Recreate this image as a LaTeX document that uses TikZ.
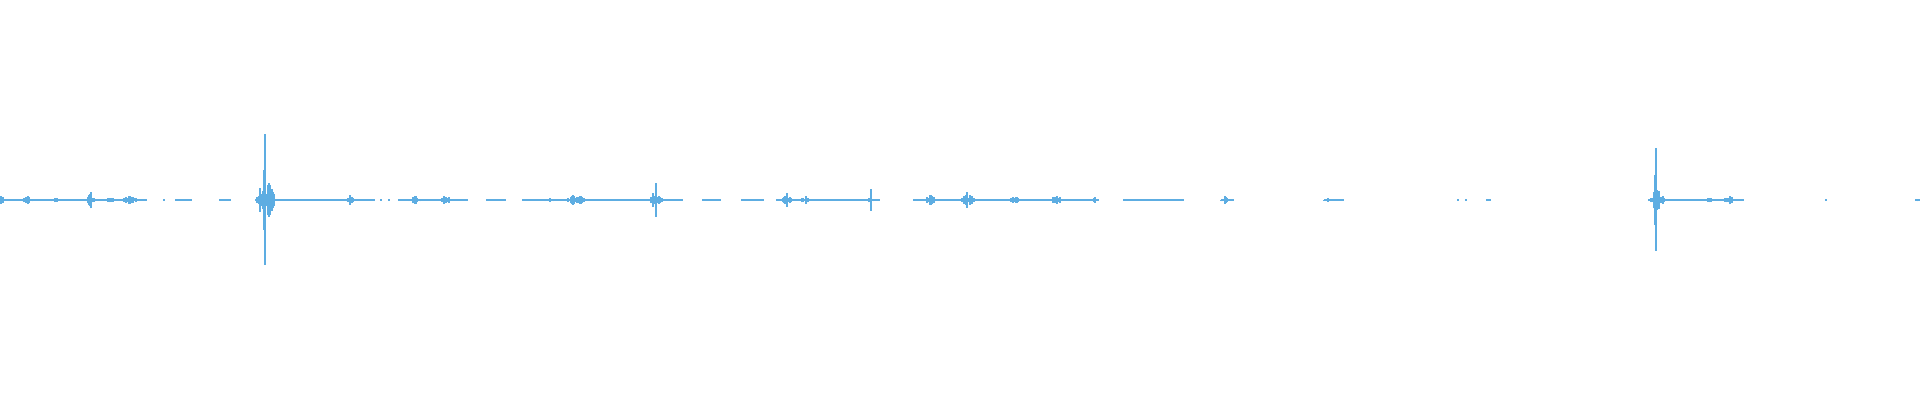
\documentclass[tikz,border=0pt]{standalone}
\usetikzlibrary{arrows}
\definecolor{wave}{HTML}{5DADE2}
\begin{document}
\begin{tikzpicture}[x=0.01cm,y=0.01cm]
    \tikzset{trace/.style = {draw=wave, line width=0.45pt}}
    \tikzset{tick/.style = {draw=wave, line width=0.3pt}}
    \useasboundingbox (0,0) rectangle (1920,400);
    \pgfmathsetseed{7}
    % baseline pieces
    \foreach \a/\b in {0/147, 163/165, 175/192, 219/231, 255/375, 380/382, 388/390, 398/468, 486/506, 522/683,
                       702/721, 741/764, 776/880, 913/1097, 1123/1184, 1221/1234, 1324/1344, 1457/1459,
                       1465/1467, 1486/1491, 1648/1744, 1825/1827, 1916/1920}
        \draw[trace] (\a,200) -- (\b,200);
    % bursts: centre/amplitude/half width
    \foreach \c/\h/\w in {1/7/3, 28/7/6, 55/3/5, 91/9/5, 111/4/4, 130/5/8, 266/30/9, 350/7/4, 416/6/8, 446/6/6,
                          576/7/12, 550/3/8, 656/12/7, 787/7/6, 805/7/4, 871/4/4, 931/6/6, 968/9/7, 1014/4/9,
                          1057/5/8, 1095/3/3, 1225/4/4, 1328/2/4, 1657/14/8, 1710/3/4, 1729/6/5, 1918/2/2}
        \foreach \i in {-\w,...,\w} {
            \pgfmathsetmacro\amp{\h*(1-abs(\i)/(\w+1))*(0.15+0.85*rnd)}
            \draw[tick] (\c+\i,200-\amp) -- (\c+\i,200+\amp);
        }
    % sharp spikes
    \draw[tick] (265,135) -- (265,266);
    \draw[trace] (264,170) -- (264,230);
    \draw[trace] (656,183) -- (656,217);
    \draw[tick] (871,189) -- (871,211);
    \draw[trace] (1656,149) -- (1656,252);
    \draw[trace] (1655,175) -- (1655,225);
\end{tikzpicture}
\end{document}
